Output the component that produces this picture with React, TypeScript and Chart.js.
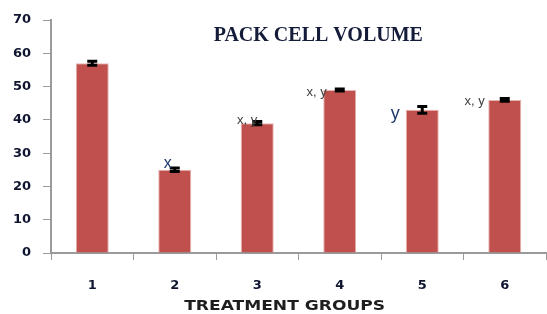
import React, { useEffect, useRef } from "react";
import { Chart, registerables } from "chart.js";

Chart.register(...registerables);

const categories = ["1", "2", "3", "4", "5", "6"];
const values = [57, 25, 39, 49, 43, 46];
const errors = [0.6, 0.5, 0.5, 0.3, 1.0, 0.4];
const sigLabels = ["", "x", "x, y", "x, y", "y", "x, y"];
const yTicks = [0, 10, 20, 30, 40, 50, 60, 70];
const chartTitle = "PACK CELL VOLUME";
const xTitle = "TREATMENT GROUPS";

// label styling (not data): offsets relative to bar center/top
const labelStyle = [
  { dx: 0, dy: 0, size: 0, color: "#000" },
  { dx: -7, dy: -6, size: 16, color: "#1F3A6E", align: "center" },
  { dx: 0, dy: -3, size: 13, color: "#404040", align: "right" },
  { dx: -13, dy: 3, size: 13, color: "#404040", align: "right" },
  { dx: -27, dy: 4, size: 18, color: "#1F3A6E", align: "center" },
  { dx: -20, dy: 2, size: 13, color: "#404040", align: "right" },
];

const overlayPlugin = {
  id: "overlay",
  afterDatasetsDraw(chart: any) {
    const ctx = chart.ctx;
    const meta = chart.getDatasetMeta(0);
    const y = chart.scales.y;
    ctx.save();
    meta.data.forEach((bar: any, i: number) => {
      const cx = bar.x;
      const top = y.getPixelForValue(values[i] + errors[i]);
      const bot = y.getPixelForValue(values[i] - errors[i]);
      ctx.strokeStyle = "#000";
      ctx.lineWidth = 3;
      ctx.beginPath();
      ctx.moveTo(cx, top);
      ctx.lineTo(cx, bot);
      ctx.moveTo(cx - 5, top);
      ctx.lineTo(cx + 5, top);
      ctx.moveTo(cx - 5, bot);
      ctx.lineTo(cx + 5, bot);
      ctx.stroke();
      const s: any = labelStyle[i];
      if (sigLabels[i]) {
        ctx.fillStyle = s.color;
        ctx.font = `${s.size}px "Liberation Sans", Arial, sans-serif`;
        ctx.textAlign = s.align;
        ctx.textBaseline = "middle";
        ctx.fillText(sigLabels[i], cx + s.dx, y.getPixelForValue(values[i]) + s.dy);
      }
    });
    ctx.restore();
  },
  afterDraw(chart: any) {
    const ctx = chart.ctx;
    const area = chart.chartArea;
    ctx.save();
    ctx.fillStyle = "#141c3a";
    ctx.font = 'bold 20px "Liberation Serif", "Times New Roman", serif';
    ctx.textAlign = "center";
    ctx.textBaseline = "middle";
    ctx.fillText(chartTitle, area.left + (area.right - area.left) * 0.54, 36);
    ctx.restore();

    ctx.save();
    ctx.fillStyle = "#1e1e1e";
    ctx.font = 'bold 14px "DejaVu Sans", Verdana, sans-serif';
    ctx.textAlign = "center";
    ctx.textBaseline = "middle";
    const w = ctx.measureText(xTitle).width;
    const sx = 201 / w;
    const cx = area.left + (area.right - area.left) * 0.47 + 1;
    ctx.translate(cx, 306);
    ctx.scale(sx, 1);
    ctx.fillText(xTitle, 0, 0);
    ctx.restore();
  },
};

export default function App() {
  const ref = useRef<HTMLCanvasElement>(null);
  useEffect(() => {
    if (!ref.current) return;
    const chart = new Chart(ref.current, {
      type: "bar",
      data: {
        labels: categories,
        datasets: [
          {
            data: values,
            backgroundColor: "#C0504D",
            borderColor: "#E8B4B3",
            borderWidth: 1,
            barPercentage: 0.4,
            categoryPercentage: 1,
          },
        ],
      },
      options: {
        responsive: false,
        animation: false,
        layout: { padding: { top: 20, left: 0, right: 1, bottom: 0 } },
        plugins: { legend: { display: false }, title: { display: false }, tooltip: { enabled: false } },
        scales: {
          x: {
            grid: { drawOnChartArea: false, drawTicks: true, tickLength: 7, color: "#9a9a9a", offset: true },
            border: { display: true, color: "#9a9a9a", width: 2 },
            ticks: {
              padding: 18,
              color: "#0f1530",
              font: { family: '"DejaVu Sans", Verdana, sans-serif', size: 13, weight: "bold" },
            },
            afterFit(scale: any) {
              scale.height = 61;
            },
          },
          y: {
            min: 0,
            max: 70,
            afterBuildTicks(scale: any) {
              scale.ticks = yTicks.map((v) => ({ value: v }));
            },
            grid: { drawOnChartArea: false, drawTicks: true, tickLength: 8, color: "#9a9a9a" },
            border: { display: true, color: "#9a9a9a", width: 2 },
            ticks: {
              padding: 12,
              color: "#0f1530",
              font: { family: '"DejaVu Sans", Verdana, sans-serif', size: 13, weight: "bold" },
            },
            afterFit(scale: any) {
              scale.width = 51;
            },
          },
        },
      },
      plugins: [overlayPlugin],
    } as any);
    return () => chart.destroy();
  }, []);
  return (
    <div style={{ position: "fixed", left: 0, top: 0, width: 547, height: 314, background: "#fff" }}>
      <canvas ref={ref} width={547} height={314} />
    </div>
  );
}
